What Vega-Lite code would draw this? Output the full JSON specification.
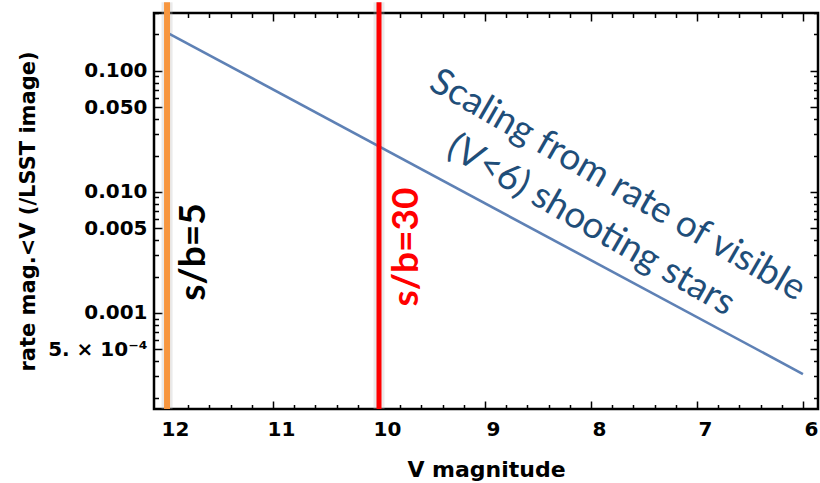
{
  "$schema": "https://vega.github.io/schema/vega-lite/v6.json",
  "width": 664,
  "height": 396,
  "autosize": {"type": "none"},
  "padding": {"left": 154, "top": 13, "right": 2, "bottom": 74},
  "background": "white",
  "config": {
    "view": {"stroke": "black", "strokeWidth": 2.5},
    "axis": {
      "domain": false,
      "grid": false,
      "tickColor": "black",
      "tickWidth": 1.5,
      "labelFont": "DejaVu Sans",
      "labelFontWeight": "bold",
      "labelFontSize": 20,
      "labelColor": "black",
      "titleFont": "DejaVu Sans",
      "titleFontWeight": "bold",
      "titleColor": "black",
      "labelOverlap": false,
      "labelFlush": false
    }
  },
  "datasets": {
    "curve": [
      {"V": 12, "rate": 0.2075},
      {"V": 6, "rate": 0.000313}
    ],
    "limits": [
      {"V": 12, "top": 0.37, "bottom": 0.000161, "case": "s/b=5"},
      {"V": 10, "top": 0.37, "bottom": 0.000161, "case": "s/b=30"}
    ],
    "sbLabels": [
      {"V": 11.745, "rate": 0.00319, "label": "s/b=5"},
      {"V": 9.736, "rate": 0.00351, "label": "s/b=30"}
    ],
    "scalingNote": [
      {"V": 7.75, "rate": 0.01132, "label": "Scaling from rate of visible"},
      {"V": 8.0, "rate": 0.00528, "label": "(V<6) shooting stars"}
    ]
  },
  "layer": [
    {
      "data": {"name": "limits"},
      "mark": {"type": "rule", "color": "#bbbbbb", "strokeWidth": 11, "opacity": 0.3},
      "encoding": {
        "x": {"field": "V", "type": "quantitative", "axis": null},
        "y": {"field": "top", "type": "quantitative", "axis": null},
        "y2": {"field": "bottom"}
      }
    },
    {
      "data": {"name": "curve"},
      "mark": {"type": "line", "color": "#5E81B5", "strokeWidth": 2.6},
      "encoding": {
        "x": {
          "field": "V", "type": "quantitative",
          "scale": {"domain": [5.858, 12.123], "reverse": true, "nice": false, "zero": false},
          "axis": {
            "orient": "bottom",
            "values": [6, 7, 8, 9, 10, 11, 12],
            "ticks": false,
            "tickSize": 0,
            "labelPadding": 10,
            "labelOffset": 8,
            "title": "V magnitude",
            "titleFontSize": 22,
            "titleY": 67,
            "titleBaseline": "alphabetic"
          }
        },
        "y": {
          "field": "rate", "type": "quantitative",
          "scale": {"type": "log", "domain": [0.000161, 0.301], "nice": false},
          "axis": {
            "orient": "left",
            "values": [0.0005, 0.001, 0.005, 0.01, 0.05, 0.1],
            "labelExpr": "datum.value < 0.0007 ? '5. × 10⁻⁴' : format(datum.value, '.3f')",
            "ticks": false,
            "tickSize": 0,
            "labelPadding": 7,
            "title": "rate mag.<V (/LSST image)",
            "titleFontSize": 21,
            "titleAngle": 270,
            "titleX": -126,
            "titleY": 198,
            "titleAlign": "center",
            "titleBaseline": "middle"
          }
        }
      }
    },
    {
      "data": {"name": "curve"},
      "mark": {"type": "line", "opacity": 0},
      "encoding": {
        "x": {"field": "V", "type": "quantitative",
          "axis": {"orient": "bottom", "values": [6, 7, 8, 9, 10, 11, 12], "labels": false, "title": null, "tickSize": 8, "offset": -8}},
        "y": {"field": "rate", "type": "quantitative",
          "axis": {"orient": "left", "values": [0.0005, 0.001, 0.005, 0.01, 0.05, 0.1], "labels": false, "title": null, "tickSize": 8, "offset": -8}}
      }
    },
    {
      "data": {"name": "curve"},
      "mark": {"type": "line", "opacity": 0},
      "encoding": {
        "x": {"field": "V", "type": "quantitative",
          "axis": {"orient": "bottom", "values": [6.2, 6.4, 6.6, 6.8, 7.2, 7.4, 7.6, 7.8, 8.2, 8.4, 8.6, 8.8, 9.2, 9.4, 9.6, 9.8, 10.2, 10.4, 10.6, 10.8, 11.2, 11.4, 11.6, 11.8], "labels": false, "title": null, "tickSize": 4.5, "offset": -4.5}},
        "y": {"field": "rate", "type": "quantitative",
          "axis": {"orient": "left", "values": [0.0002, 0.0003, 0.0004, 0.0006, 0.0007, 0.0008, 0.0009, 0.002, 0.003, 0.004, 0.006, 0.007, 0.008, 0.009, 0.02, 0.03, 0.04, 0.06, 0.07, 0.08, 0.09, 0.2, 0.3], "labels": false, "title": null, "tickSize": 4.5, "offset": -4.5}}
      }
    },
    {
      "data": {"name": "curve"},
      "mark": {"type": "line", "opacity": 0},
      "encoding": {
        "x": {"field": "V", "type": "quantitative",
          "axis": {"orient": "top", "values": [6, 7, 8, 9, 10, 11, 12], "labels": false, "title": null, "tickSize": 8, "offset": -8}},
        "y": {"field": "rate", "type": "quantitative",
          "axis": {"orient": "right", "values": [0.0005, 0.001, 0.005, 0.01, 0.05, 0.1], "labels": false, "title": null, "tickSize": 8, "offset": -8}}
      }
    },
    {
      "data": {"name": "curve"},
      "mark": {"type": "line", "opacity": 0},
      "encoding": {
        "x": {"field": "V", "type": "quantitative",
          "axis": {"orient": "top", "values": [6.2, 6.4, 6.6, 6.8, 7.2, 7.4, 7.6, 7.8, 8.2, 8.4, 8.6, 8.8, 9.2, 9.4, 9.6, 9.8, 10.2, 10.4, 10.6, 10.8, 11.2, 11.4, 11.6, 11.8], "labels": false, "title": null, "tickSize": 4.5, "offset": -4.5}},
        "y": {"field": "rate", "type": "quantitative",
          "axis": {"orient": "right", "values": [0.0002, 0.0003, 0.0004, 0.0006, 0.0007, 0.0008, 0.0009, 0.002, 0.003, 0.004, 0.006, 0.007, 0.008, 0.009, 0.02, 0.03, 0.04, 0.06, 0.07, 0.08, 0.09, 0.2, 0.3], "labels": false, "title": null, "tickSize": 4.5, "offset": -4.5}}
      }
    },
    {
      "data": {"name": "limits"},
      "mark": {"type": "rule"},
      "encoding": {
        "x": {"field": "V", "type": "quantitative", "axis": null},
        "y": {"field": "top", "type": "quantitative", "axis": null},
        "y2": {"field": "bottom"},
        "color": {"field": "case", "type": "nominal", "scale": {"domain": ["s/b=5", "s/b=30"], "range": ["#F7963F", "#FF0000"]}, "legend": null},
        "strokeWidth": {"field": "case", "type": "nominal", "scale": {"domain": ["s/b=5", "s/b=30"], "range": [6, 5]}, "legend": null}
      }
    },
    {
      "data": {"name": "sbLabels"},
      "mark": {"type": "text", "font": "Lato", "fontWeight": "bold", "fontSize": 37, "angle": 270, "align": "center", "baseline": "middle"},
      "encoding": {
        "x": {"field": "V", "type": "quantitative", "axis": null},
        "y": {"field": "rate", "type": "quantitative", "axis": null},
        "text": {"field": "label"},
        "color": {"field": "label", "type": "nominal", "scale": {"domain": ["s/b=5", "s/b=30"], "range": ["#000000", "#FF0000"]}, "legend": null}
      }
    },
    {
      "data": {"name": "scalingNote"},
      "mark": {"type": "text", "font": "Lato", "fontSize": 37, "angle": 30, "align": "center", "baseline": "middle", "color": "#1F4E79"},
      "encoding": {
        "x": {"field": "V", "type": "quantitative", "axis": null},
        "y": {"field": "rate", "type": "quantitative", "axis": null},
        "text": {"field": "label"}
      }
    }
  ],
  "resolve": {"axis": {"x": "independent", "y": "independent"}, "scale": {"color": "independent", "strokeWidth": "independent"}}
}
